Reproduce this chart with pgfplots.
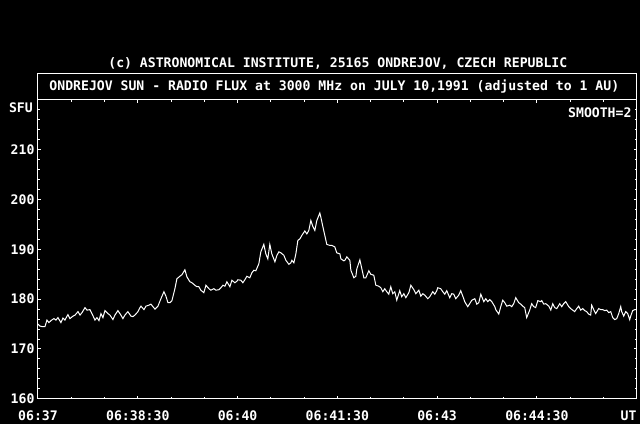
\documentclass[border=0pt]{standalone}
\usepackage{pgfplots}
\pgfplotsset{compat=1.18}
\usepackage{fontspec}
\setmainfont{DejaVu Sans Mono}
\newcommand{\chfont}{\fontsize{13.2}{15}\selectfont\bfseries}
\begin{document}
\begin{tikzpicture}[x=1bp,y=1bp]
\fill[black] (0,0) rectangle (640,424);
\begin{axis}[
  at={(38bp,25bp)}, anchor=south west,
  width=599bp, height=299bp, scale only axis,
  xmin=0, xmax=540, ymin=160, ymax=220,
  axis background/.style={fill=black},
  axis line style={white, line width=1bp},
  xtick={0,90,...,540},
  xticklabels={06:37,06:38:30,06:40,06:41:30,06:43,06:44:30,{}},
  minor x tick num=2,
  ytick={160,170,...,220},
  yticklabels={160,170,180,190,200,210,{}},
  minor y tick num=4,
  tick align=inside,
  major tick length=3bp, minor tick length=2bp,
  tick style={white, line width=1bp},
  /pgf/number format/assume math mode=true,
  tick label style={white, font=\chfont},
  xticklabel style={anchor=base, yshift=-21.8bp},
  clip=false,
]
\addplot[white, line width=1bp, mark=none] table {
t v
0 175.0
1.8 174.6
3.6 174.5
6.3 174.5
8.1 175.8
9.9 175.3
11.7 175.7
14.4 176.1
16.2 175.8
18.0 176.3
20.7 175.3
22.5 176.2
24.3 175.8
27.0 176.9
28.8 176.1
31.6 176.6
33.4 176.8
36.1 177.5
37.9 176.8
39.7 177.3
42.4 178.3
44.2 177.8
46.9 177.9
48.7 177.1
51.4 175.8
53.2 176.3
55.0 175.7
56.8 177.1
58.6 176.3
60.4 177.7
63.1 177.1
64.9 176.8
67.6 175.9
69.4 176.8
72.1 177.7
74.8 176.8
76.6 176.1
78.4 176.8
81.1 177.5
83.8 176.6
85.6 176.5
87.4 176.8
90.2 177.5
92.0 178.3
92.9 178.6
95.6 177.9
97.4 178.6
100.1 178.8
101.9 179.0
103.7 178.5
105.5 178.0
108.2 178.6
110.9 180.1
113.6 181.5
115.4 180.6
117.2 179.3
119.0 179.3
120.8 179.7
123.5 182.1
125.3 184.1
128.0 184.6
129.8 184.9
132.5 185.9
134.3 184.5
137.0 183.5
138.8 183.3
141.5 182.8
143.3 182.5
145.1 182.5
146.9 181.8
149.6 181.3
151.5 182.8
154.2 182.1
156.0 181.8
158.7 182.1
160.5 181.8
163.2 181.9
165.0 182.3
166.8 182.8
168.6 182.6
170.4 183.5
173.1 182.5
174.9 183.8
177.6 183.3
179.4 183.6
180.3 183.9
183.0 183.8
184.8 183.3
186.6 183.9
188.4 184.6
191.1 184.3
192.9 185.3
194.7 185.8
196.5 185.7
199.2 187.1
201.0 189.5
203.7 191.0
205.5 189.1
207.3 188.1
209.1 191.0
210.9 189.1
213.7 187.5
215.5 188.8
217.3 189.5
219.1 189.3
221.8 188.8
223.6 187.8
226.3 187.0
228.1 187.3
229.0 187.8
230.8 187.3
232.6 189.1
234.4 191.8
236.2 192.1
238.0 192.8
240.7 193.7
242.5 193.1
244.3 193.8
246.1 195.8
247.9 194.6
249.7 193.8
251.5 195.8
254.2 197.3
255.1 196.5
256.9 194.6
258.7 192.8
260.5 191.0
263.2 190.8
265.0 190.8
267.7 190.5
269.5 189.3
272.3 189.1
273.2 188.1
275.9 187.7
276.8 187.8
278.6 188.5
281.3 187.8
282.2 185.8
284.9 184.3
286.7 184.6
287.6 186.1
290.3 187.9
292.1 186.1
293.9 184.3
295.7 184.3
298.4 185.7
300.2 185.0
302.9 184.8
304.7 182.8
307.4 182.6
309.2 182.3
311.0 181.5
312.8 182.1
314.6 181.5
316.4 181.0
318.2 182.5
320.0 181.1
321.8 181.5
323.6 179.8
326.3 181.7
328.1 180.5
330.0 181.1
331.8 180.3
334.5 181.3
336.3 182.8
339.0 181.9
340.8 181.1
343.5 181.8
345.3 180.6
347.1 181.1
348.9 180.8
351.6 180.1
353.4 180.5
356.1 181.5
357.9 181.0
359.7 181.7
360.6 182.3
363.3 182.1
365.1 181.5
366.9 181.0
368.7 181.7
371.4 180.3
373.2 181.1
375.0 181.0
376.8 180.1
379.5 180.8
381.3 181.7
384.0 180.1
384.9 179.5
387.6 178.5
389.4 179.1
391.3 179.8
394.0 180.1
395.8 179.0
397.6 179.3
399.4 181.0
402.1 179.5
403.9 180.1
405.7 179.5
407.5 179.9
409.3 179.5
412.0 178.5
412.9 177.9
415.6 177.0
417.4 178.5
419.2 179.8
421.0 179.3
422.8 178.6
425.5 178.8
427.3 178.5
429.1 179.1
430.9 180.3
433.6 179.3
435.4 179.0
437.2 178.6
439.0 178.3
440.8 176.3
443.5 177.8
445.3 179.1
447.1 178.5
448.9 178.3
450.8 179.7
453.5 179.5
454.4 179.7
456.2 179.0
458.0 179.1
460.7 178.6
462.5 177.8
464.3 179.1
466.1 178.3
467.9 178.1
470.6 179.1
472.4 178.5
474.2 179.1
476.0 179.5
478.7 178.5
480.5 178.1
482.3 177.8
484.1 177.5
485.9 178.1
487.7 178.6
489.5 177.8
491.3 178.1
493.1 177.7
494.9 177.5
496.7 177.0
498.5 176.8
499.4 178.8
502.1 177.5
503.0 177.1
505.7 178.1
507.5 177.9
509.3 177.9
511.1 177.7
513.0 177.8
514.8 177.3
516.6 177.5
518.4 176.3
520.2 175.9
522.0 176.1
523.8 177.1
525.6 178.5
526.5 177.5
528.3 176.6
530.1 177.5
531.9 177.1
533.7 175.9
534.6 176.6
536.4 177.7
538.2 177.9
540.0 177.9
};
\end{axis}
\draw[white, line width=1bp] (38,324) rectangle (637,350);
\node[white, font=\chfont, inner sep=0] at (334.5,337) {ONDREJOV SUN - RADIO FLUX at 3000 MHz on JULY 10,1991 (adjusted to 1 AU)};
\node[white, font=\chfont, inner sep=0] at (338,361) {(c) ASTRONOMICAL INSTITUTE, 25165 ONDREJOV, CZECH REPUBLIC};
\node[white, font=\chfont, inner sep=0, anchor=east] at (33,316) {SFU};
\node[white, font=\chfont, inner sep=0, anchor=east] at (632,311) {SMOOTH=2};
\node[white, font=\chfont, inner sep=0, anchor=base east] at (637,3.2) {UT};
\end{tikzpicture}
\end{document}
